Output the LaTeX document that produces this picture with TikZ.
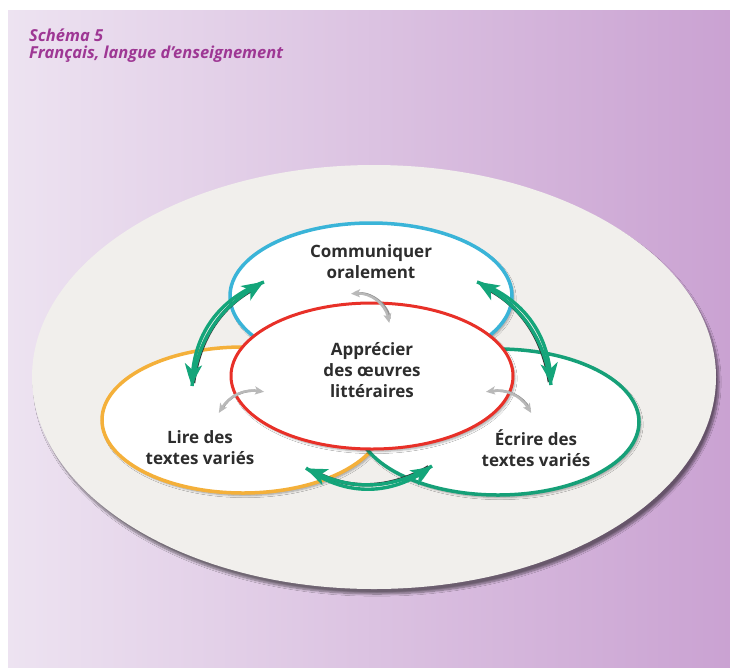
\documentclass[tikz,border=0pt]{standalone}
\usepackage{fontspec}
\setmainfont{Open Sans}
\usetikzlibrary{shapes.geometric,arrows.meta,shadows.blur,bending}
\definecolor{panelL}{RGB}{237,227,241}
\definecolor{panelR}{RGB}{202,162,210}
\definecolor{basefill}{RGB}{241,239,236}
\definecolor{cblue}{RGB}{58,180,216}
\definecolor{cred}{RGB}{232,48,40}
\definecolor{corange}{RGB}{244,176,58}
\definecolor{cgreen}{RGB}{22,160,120}
\definecolor{agreen}{RGB}{20,165,122}
\definecolor{titlec}{RGB}{158,55,148}
\definecolor{txt}{RGB}{45,45,45}
\begin{document}
\begin{tikzpicture}[x=1pt,y=-1pt,
  ring/.style={ellipse, draw, line width=3.5pt, fill=white, minimum width=282pt, minimum height=146pt, inner sep=0pt,
    blur shadow={shadow xshift=2pt, shadow yshift=-2.5pt, shadow opacity=35, shadow blur steps=6}},
  lab/.style={font=\fontsize{17}{21}\selectfont\bfseries, text=txt, align=center},
  ttl/.style={font=\fontsize{16.5}{17}\selectfont\bfseries\itshape, text=titlec, anchor=base west, inner sep=0pt},
  garrow/.style={draw=agreen, line width=3.4pt, -{Stealth[length=22pt,width=17pt,inset=6pt,bend]}},
  gedge/.style={draw=black!80, line width=3.4pt, shorten >=12pt, shorten <=4pt},
  sarrow/.style={draw=gray!55, line width=2.4pt, {Stealth[length=9pt,width=8pt,inset=2pt,bend]}-{Stealth[length=9pt,width=8pt,inset=2pt,bend]}},
  sedge/.style={draw=gray!85, line width=2.4pt, shorten <=5pt, shorten >=5pt}
]
\useasboundingbox (0,0) rectangle (730,667);
\fill[white] (0,0) rectangle (730,667);
\shade[left color=panelL, right color=panelR] (8,10) rectangle (730,667);

\node[ttl] (t1) at (29,41) {Schéma 5};
\node[ttl] (t2) at (29,58) {Français, langue d’enseignement};

\node[ellipse, fill=basefill, minimum width=684pt, minimum height=424pt, inner sep=0pt,
  blur shadow={shadow xshift=3pt, shadow yshift=-5pt, shadow opacity=50, shadow blur steps=10}] (base) at (374,377) {};

\node[ring, draw=cblue] (oral) at (371,296) {};
\node[ring, draw=corange] (lire) at (243,420) {};
\node[ring, draw=cgreen] (ecrire) at (498,422) {};
\node[ring, draw=cred, line width=3pt] (app) at (372,376) {};

\node[lab] (toral) at (371,262) {Communiquer\\oralement};
\node[lab] (tapp) at (372,370) {Apprécier\\des œuvres\\littéraires};
\node[lab] (tlire) at (200,448) {Lire des\\textes variés};
\node[lab] (tecrire) at (536,448) {Écrire des\\textes variés};

% green arrows
\coordinate (L1) at (264,282); \coordinate (L2) at (192,386);
\coordinate (R1) at (477,282); \coordinate (R2) at (551,385);
\coordinate (B1) at (306,468); \coordinate (B2) at (432,466);
% left pair
\draw[gedge, transform canvas={shift={(1pt,-1pt)}}] (L2) to[bend left=27] (L1);
\draw[garrow] (L2) to[bend left=27] (L1);
\draw[garrow] (L1) to[bend right=35] (L2);
% right pair
\draw[gedge, transform canvas={shift={(-1pt,-1pt)}}] (R2) to[bend right=27] (R1);
\draw[garrow] (R2) to[bend right=27] (R1);
\draw[garrow] (R1) to[bend left=35] (R2);
% bottom pair
\draw[gedge, transform canvas={shift={(0pt,1.2pt)}}] (B2) to[bend left=29] (B1);
\draw[garrow] (B2) to[bend left=29] (B1);
\draw[garrow] (B1) to[bend right=37] (B2);

% grey arrows
\coordinate (S1) at (351,294); \coordinate (S2) at (389,323);
\coordinate (S3) at (219,413); \coordinate (S4) at (264,392);
\coordinate (S5) at (486,392); \coordinate (S6) at (531,413);
\draw[sedge, transform canvas={shift={(0.8pt,-0.8pt)}}] (S1) to[bend left=50] (S2);
\draw[sarrow] (S1) to[bend left=50] (S2);
\draw[sedge, transform canvas={shift={(0.8pt,-0.8pt)}}] (S3) to[bend left=40] (S4);
\draw[sarrow] (S3) to[bend left=40] (S4);
\draw[sedge, transform canvas={shift={(0.8pt,-0.8pt)}}] (S5) to[bend left=40] (S6);
\draw[sarrow] (S5) to[bend left=40] (S6);
\end{tikzpicture}
\end{document}
